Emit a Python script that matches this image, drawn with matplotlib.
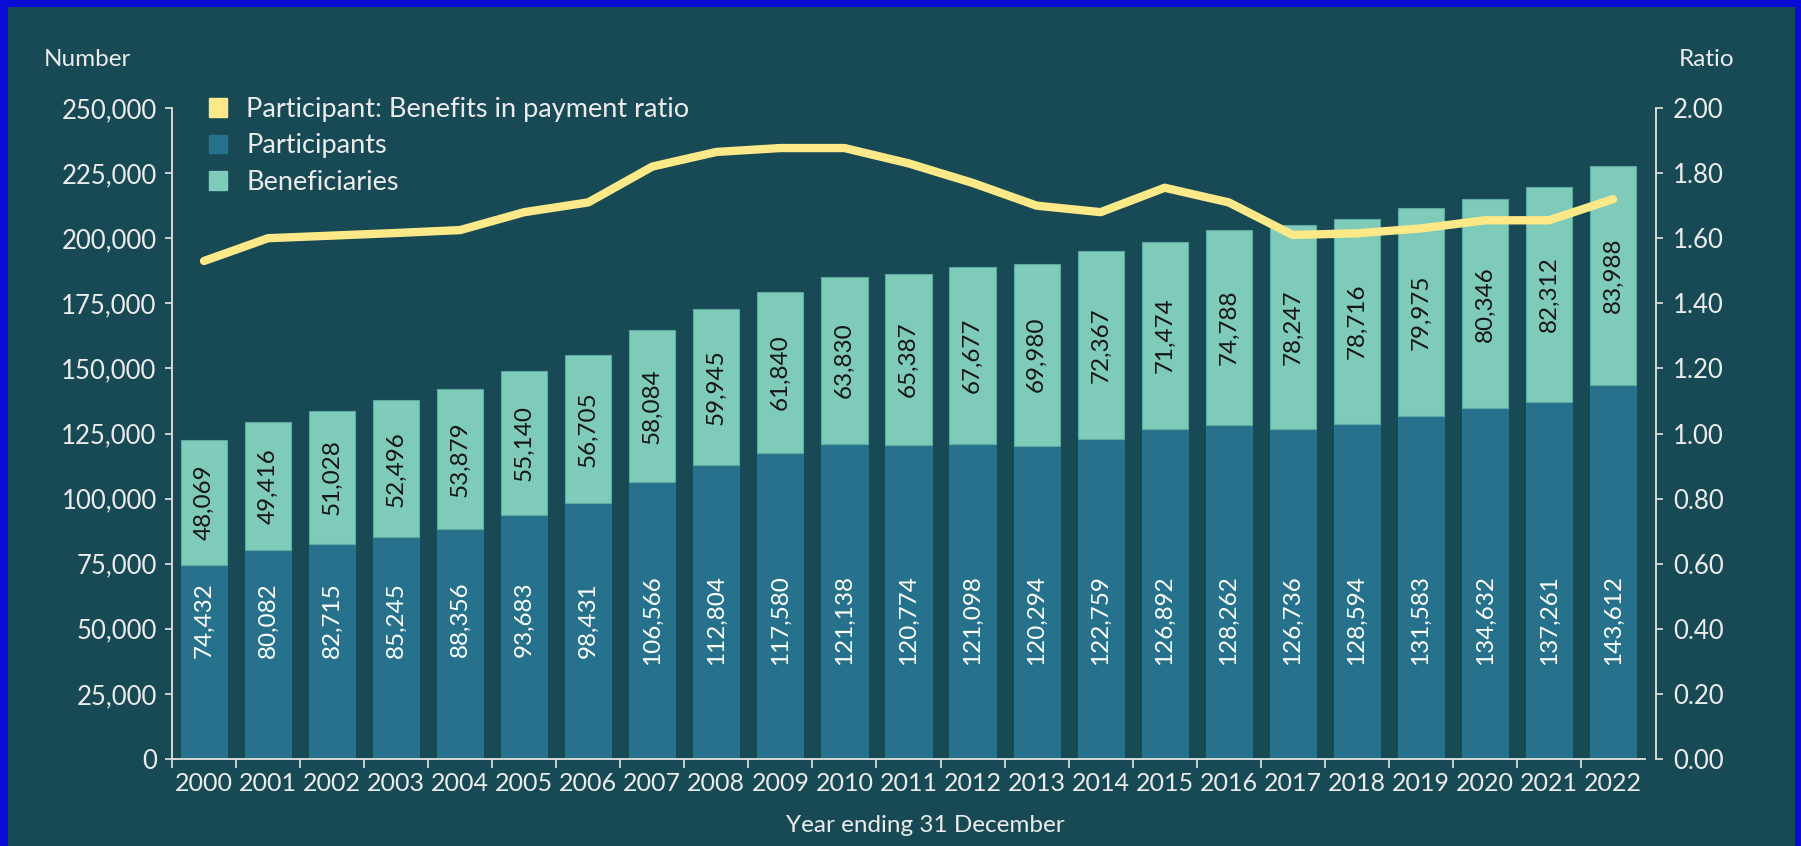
import matplotlib.pyplot as plt
import matplotlib.patches as mpatches
import numpy as np
from matplotlib.ticker import FuncFormatter

plt.rcParams["font.family"] = ["Lato", "DejaVu Sans"]

# data
years = [str(y) for y in range(2000, 2023)]
participants = [74432, 80082, 82715, 85245, 88356, 93683, 98431, 106566, 112804,
                117580, 121138, 120774, 121098, 120294, 122759, 126892, 128262,
                126736, 128594, 131583, 134632, 137261, 143612]
beneficiaries = [48069, 49416, 51028, 52496, 53879, 55140, 56705, 58084, 59945,
                 61840, 63830, 65387, 67677, 69980, 72367, 71474, 74788,
                 78247, 78716, 79975, 80346, 82312, 83988]
ratio = [1.53, 1.60, 1.608, 1.616, 1.625, 1.68, 1.71, 1.82, 1.865, 1.877, 1.877,
         1.83, 1.77, 1.70, 1.68, 1.755, 1.71, 1.61, 1.615, 1.63, 1.655, 1.655, 1.72]

# colours
BG = "#184a56"
PART = "#26728c"
BEN = "#7ecbb9"
LINE = "#fde987"
AXC = "#d8d8d8"
TXT = "#ececec"

W, H = 1801, 846
fig = plt.figure(figsize=(W / 100, H / 100), dpi=100, facecolor="#0b0bd6")
fig.patches.append(mpatches.Rectangle((8 / W, 0), (1795 - 8) / W, (H - 7) / H,
                                      transform=fig.transFigure, facecolor=BG,
                                      edgecolor="none", zorder=-10))

ax = fig.add_axes([172 / W, 1 - 759 / H, (1645 - 172) / W, (759 - 108) / H])
ax.set_facecolor("none")
x = np.arange(len(years))

ax.bar(x, participants, width=0.72, color=PART, edgecolor="#2a7890", linewidth=0.6, zorder=2)
ax.bar(x, beneficiaries, width=0.72, bottom=participants, color=BEN,
       edgecolor="#5fa9a0", linewidth=0.8, zorder=2)

for i, (p, b) in enumerate(zip(participants, beneficiaries)):
    ax.text(i, 53500, f"{p:,}", rotation=90, ha="center", va="center",
            color="white", fontsize=17.5, zorder=3)
    ax.text(i, p + b / 2, f"{b:,}", rotation=90, ha="center", va="center",
            color="#151515", fontsize=17.5, zorder=3)

ax.set_xlim(-0.5, 22.5)
ax.set_ylim(0, 250000)
ax.set_yticks(np.arange(0, 250001, 25000))
ax.yaxis.set_major_formatter(FuncFormatter(lambda v, _: f"{v:,.0f}"))
ax.set_xticks(np.arange(-0.5, 22, 1))
ax.set_xticklabels([])
ax.set_xticks(x, minor=True)
ax.set_xticklabels(years, minor=True)

for s in ["top", "right"]:
    ax.spines[s].set_visible(False)
for s in ["left", "bottom"]:
    ax.spines[s].set_color(AXC)
    ax.spines[s].set_linewidth(1.4)

ax.tick_params(axis="y", colors=AXC, labelcolor=TXT, length=5, width=1.3,
               pad=6, labelsize=18.5)
ax.tick_params(axis="x", which="major", colors=AXC, length=6.5, width=1.3)
ax.tick_params(axis="x", which="minor", length=0, labelcolor=TXT, pad=9,
               labelsize=18)

# ratio on the right axis
ax2 = ax.twinx()
ax2.plot(x, ratio, color=LINE, lw=6, solid_capstyle="round",
         solid_joinstyle="round", zorder=4)
ax2.set_ylim(0, 2.0)
ax2.set_yticks(np.arange(0, 2.01, 0.2))
ax2.yaxis.set_major_formatter(FuncFormatter(lambda v, _: f"{v:.2f}"))
for s in ["top", "left", "bottom"]:
    ax2.spines[s].set_visible(False)
ax2.spines["right"].set_position(("outward", 8))
ax2.spines["right"].set_color(AXC)
ax2.spines["right"].set_linewidth(1.4)
ax2.tick_params(axis="y", colors=AXC, labelcolor=TXT, length=5, width=1.3,
                pad=7, labelsize=18.5)

handles = [mpatches.Patch(color=LINE, label="Participant: Benefits in payment ratio"),
           mpatches.Patch(color=PART, label="Participants"),
           mpatches.Patch(color=BEN, label="Beneficiaries")]
leg = ax.legend(handles=handles, loc="upper left",
                bbox_to_anchor=(209 / W, 1 - 97 / H), bbox_transform=fig.transFigure,
                frameon=False, fontsize=19.5, handlelength=0.68, handleheight=0.68,
                handletextpad=0.7, labelspacing=0.42, borderpad=0, borderaxespad=0)
for t in leg.get_texts():
    t.set_color(TXT)

fig.text(44 / W, 1 - 59 / H, "Number", ha="left", va="center", color=TXT, fontsize=17.5)
fig.text(1734 / W, 1 - 59 / H, "Ratio", ha="right", va="center", color=TXT, fontsize=17.5)
fig.text(925 / W, 1 - 825 / H, "Year ending 31 December", ha="center", va="center",
         color=TXT, fontsize=17.5)

fig.savefig("out.png", dpi=100, facecolor=fig.get_facecolor())
